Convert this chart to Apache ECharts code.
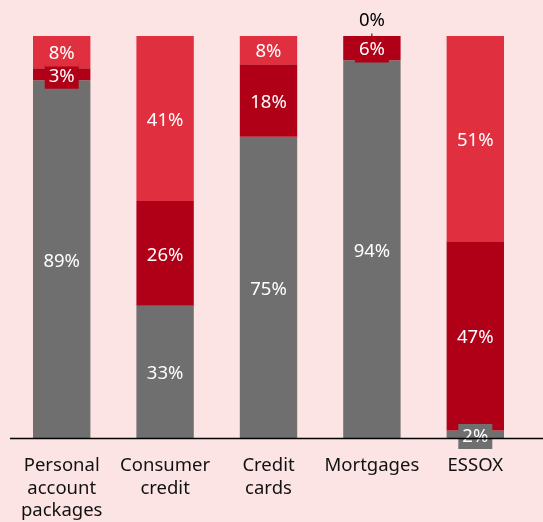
<!DOCTYPE html>
<html>
<head>
<meta charset="utf-8">
<script src="https://cdn.jsdelivr.net/npm/echarts@6/dist/echarts.min.js"></script>
<style>
  html, body { margin: 0; padding: 0; background: #fce4e4; }
  #chart { width: 543px; height: 522px; }
</style>
</head>
<body>
<div id="chart"></div>
<script>
// Product categories (x axis)
const categories = ['Personal\naccount\npackages', 'Consumer\ncredit', 'Credit\ncards', 'Mortgages', 'ESSOX'];
// Shares per category, in percent (bottom to top)
const greyShare = [89, 33, 75, 94, 2];
const darkRedShare = [3, 26, 18, 6, 47];
const redShare = [8, 41, 8, 0, 51];

const GREY = '#6f6f6f';
const DARK_RED = '#b00018';
const RED = '#e0303f';
const BG = '#fce4e4';
const FONT = '"Noto Sans", "Open Sans", sans-serif';
const FONT_SIZE = 18.5;

function segLabel(color) {
  return {
    show: true,
    position: 'inside',
    color: '#ffffff',
    fontSize: FONT_SIZE,
    fontFamily: FONT,
    backgroundColor: color,
    padding: [3, 4],
    formatter: p => p.value + '%'
  };
}

function series(name, data, color) {
  return {
    name: name,
    type: 'bar',
    stack: 'share',
    barWidth: '55.5%',
    data: data,
    itemStyle: { color: color },
    label: segLabel(color),
    labelLine: { show: true, lineStyle: { color: '#000', width: 1 } },
    labelLayout: function (params) {
      // zero-height segments get their label lifted above the bar
      if (params.rect.height < 1) {
        return { dy: -15 };
      }
      return { dy: 2 };
    },
    emphasis: { disabled: true }
  };
}

const chart = echarts.init(document.getElementById('chart'));
const redSeries = series('red', redShare, RED);
redSeries.data = redShare.map(v => v === 0
  ? { value: v, label: { color: '#000', backgroundColor: 'transparent' } }
  : v);

chart.setOption({
  backgroundColor: BG,
  animation: false,
  grid: { left: 10, right: 16, top: 36, bottom: 82 },
  xAxis: {
    type: 'category',
    data: categories,
    axisLine: { show: false },
    axisTick: { show: false },
    axisLabel: {
      color: '#111',
      fontSize: FONT_SIZE,
      fontFamily: FONT,
      lineHeight: 22.5,
      margin: 16,
      interval: 0
    }
  },
  yAxis: {
    type: 'value',
    min: 0,
    max: 100,
    show: false
  },
  series: [
    series('grey', greyShare, GREY),
    series('darkred', darkRedShare, DARK_RED),
    redSeries
  ]
});

// Baseline spanning from the grid's left edge to the right edge of the canvas
const baseY = chart.convertToPixel({ yAxisIndex: 0 }, 0);
chart.setOption({
  graphic: [{
    type: 'line',
    shape: { x1: 10, y1: baseY, x2: chart.getWidth(), y2: baseY },
    style: { stroke: '#000', lineWidth: 1.5 },
    z: 10
  }]
});
</script>
</body>
</html>
